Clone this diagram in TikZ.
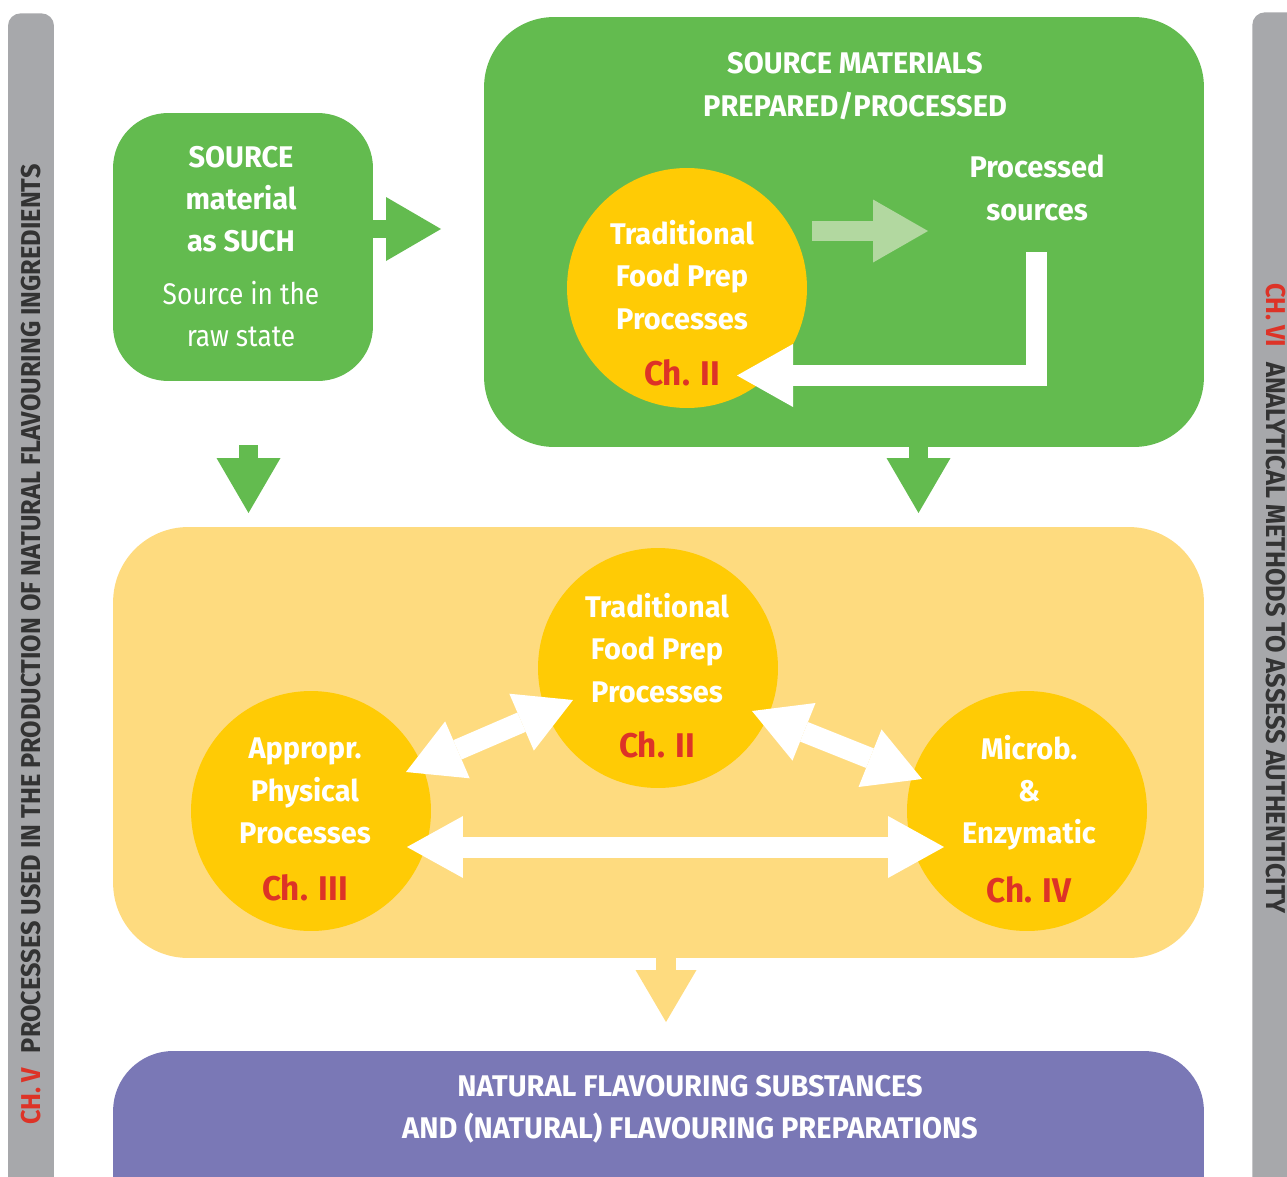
\documentclass[tikz,border=0pt]{standalone}
\usepackage{fontspec}
\setmainfont{Fira Sans}[FakeStretch=0.97]
\newfontfamily\lightfont{Fira Sans}[FakeStretch=0.88]
\newfontfamily\barfont{Fira Sans}[FakeStretch=0.93]
\usetikzlibrary{arrows.meta}
\definecolor{mygreen}{HTML}{63BB4F}
\definecolor{lightgreen}{HTML}{B2D8A0}
\definecolor{circyellow}{HTML}{FFCB05}
\definecolor{boxyellow}{HTML}{FEDB7F}
\definecolor{mypurple}{HTML}{7A78B6}
\definecolor{bargray}{HTML}{A7A8AB}
\definecolor{chred}{HTML}{DD3327}
\definecolor{bartext}{HTML}{333333}
\begin{document}
\begin{tikzpicture}[x=0.02cm,y=-0.02cm,
  panel/.style={draw=none,inner sep=0pt,rectangle},
  proc/.style={circle,fill=circyellow,draw=none,minimum size=4.8cm,inner sep=0pt},
  wtext/.style={text=white,align=center,font=\fontsize{17}{24}\selectfont\bfseries},
  wlight/.style={text=white,align=center,font=\lightfont\fontsize{17}{24}\selectfont},
  chap/.style={text=chred,font=\fontsize{19.5}{24}\selectfont\bfseries},
  bartxt/.style={text=bartext,font=\barfont\fontsize{15.5}{18}\selectfont\bfseries,inner sep=0pt},
  fatarrow/.style args={#1/#2/#3}{line width=#1*0.02cm,
     -{Triangle[length=#2*0.02cm,width=#3*0.02cm,line width=0pt]}},
  dblarrow/.style={white,line width=0.42cm,
     {Triangle[length=1.12cm,width=1.24cm,line width=0pt]}-{Triangle[length=1.12cm,width=1.24cm,line width=0pt]}}
]
\useasboundingbox (0,0) rectangle (1287,1176);
\clip (0,0) rectangle (1287,1176);

% side bars
\node[panel,fill=bargray,rounded corners=0.25cm,minimum width=0.92cm,minimum height=25cm,anchor=north] (lbar) at (31,13) {};
\node[panel,fill=bargray,rounded corners=0.25cm,minimum width=1.2cm,minimum height=25cm,anchor=north west] (rbar) at (1252,12) {};
\node[bartxt,rotate=90,anchor=base west] (ltxt) at (40,1125) {{\color{chred}CH.\,V}\hspace{0.3cm}PROCESSES USED IN THE PRODUCTION OF NATURAL FLAVOURING INGREDIENTS};
\node[bartxt,rotate=-90,anchor=base west] (rtxt) at (1266,283) {{\color{chred}CH.\,VI}\hspace{0.3cm}ANALYTICAL METHODS TO ASSESS AUTHENTICITY};

% panels
\node[panel,fill=mygreen,rounded corners=1.1cm,minimum width=5.2cm,minimum height=5.36cm] (src) at (243,247) {};
\node[panel,fill=mygreen,rounded corners=1.4cm,minimum width=14.4cm,minimum height=8.6cm] (prep) at (844,232) {};
\node[panel,fill=boxyellow,rounded corners=1.5cm,minimum width=21.82cm,minimum height=8.62cm] (proc) at (658.5,742.5) {};
\node[panel,fill=mypurple,rounded corners=1.2cm,minimum width=21.82cm,minimum height=4.18cm] (nat) at (658.5,1155.5) {};

% texts in green panels
\node[wtext] (srct) at (241,199) {SOURCE\\material\\as SUCH};
\node[wlight] (srcr) at (241,314) {Source in the\\raw state};
\node[wtext] (prept) at (855,86) {SOURCE MATERIALS\\PREPARED/PROCESSED};
\node[wtext] (procs) at (1037,188) {Processed\\sources};

% circles
\node[proc] (c1) at (687,288) {};
\node[wtext] at (682,275) {Traditional\\Food Prep\\Processes};
\node[chap] at (682,373) {Ch. II};

\node[proc] (c2) at (658,668) {};
\node[wtext] at (657,648) {Traditional\\Food Prep\\Processes};
\node[chap] at (657,745) {Ch. II};

\node[proc] (c3) at (311,811) {};
\node[wtext] at (305,791) {Appropr.\\Physical\\Processes};
\node[chap] at (305,888) {Ch. III};

\node[proc] (c4) at (1027,811) {};
\node[wtext] at (1029,793) {Microb.\\\&\\Enzymatic};
\node[chap] at (1029,890) {Ch. IV};

% purple text
\node[wtext] (natt) at (690,1109) {NATURAL FLAVOURING SUBSTANCES\\AND (NATURAL) FLAVOURING PREPARATIONS};

% arrows
\coordinate (a1s) at (373,229); \coordinate (a1e) at (441,229);
\draw[mygreen,fatarrow=18/55/64] (a1s) -- (a1e);
\coordinate (a2s) at (812,231); \coordinate (a2e) at (928,231);
\draw[lightgreen,fatarrow=20/55/63] (a2s) -- (a2e);
\coordinate (a3s) at (1036.5,252); \coordinate (a3m) at (1036.5,375.5); \coordinate (a3e) at (737,375.5);
\draw[white,fatarrow=21/56/63,miter limit=10] (a3s) -- (a3m) -- (a3e);
\coordinate (d1s) at (248.5,445); \coordinate (d1e) at (248.5,513);
\draw[mygreen,fatarrow=19/55/64] (d1s) -- (d1e);
\coordinate (d2s) at (918.5,440); \coordinate (d2e) at (918.5,513);
\draw[mygreen,fatarrow=19/55/64] (d2s) -- (d2e);
\coordinate (d3s) at (666,950); \coordinate (d3e) at (666,1022);
\draw[boxyellow,fatarrow=20/52/61] (d3s) -- (d3e);

\coordinate (b1s) at (406,772); \coordinate (b1e) at (573,700);
\draw[dblarrow] (b1s) -- (b1e);
\coordinate (b2s) at (752,711); \coordinate (b2e) at (922,779);
\draw[dblarrow] (b2s) -- (b2e);
\coordinate (b3s) at (407,847); \coordinate (b3e) at (944,847);
\draw[dblarrow] (b3s) -- (b3e);
\end{tikzpicture}
\end{document}
